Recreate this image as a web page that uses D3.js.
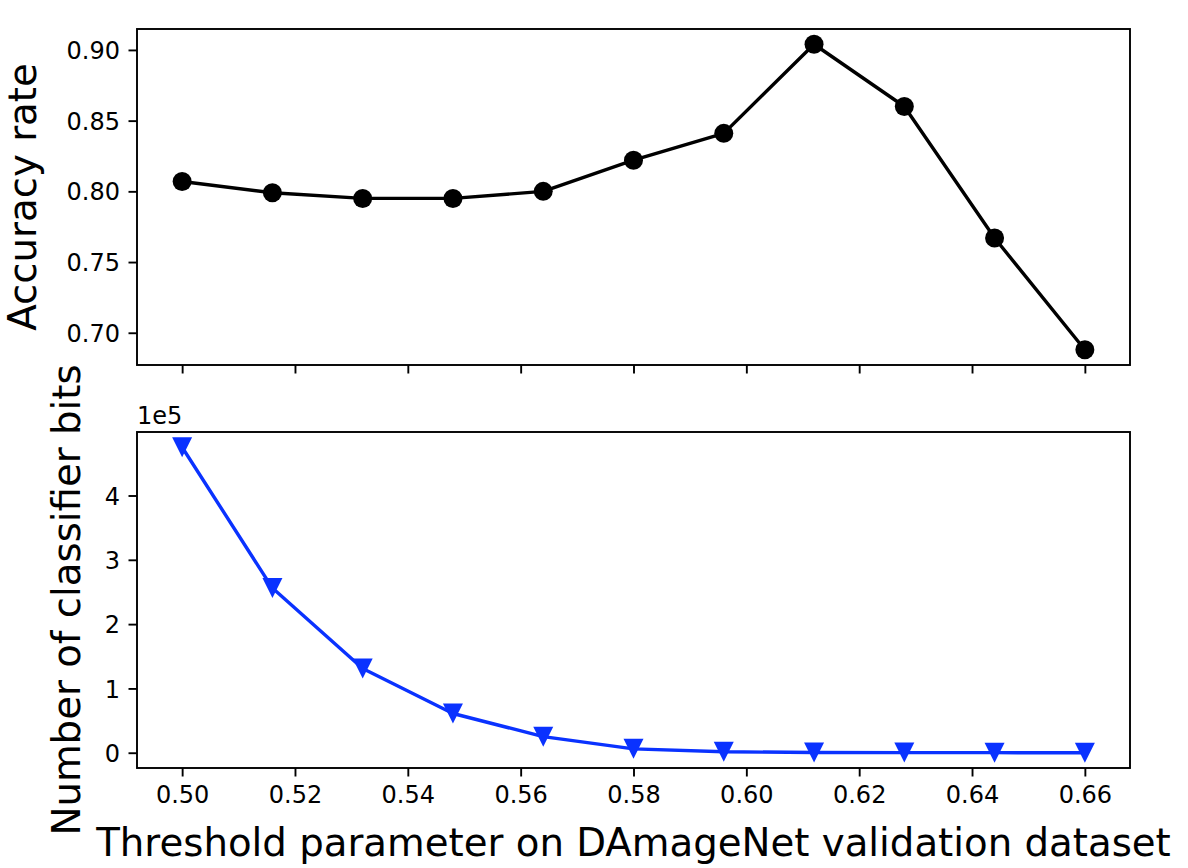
<!DOCTYPE html>
<html><head><meta charset="utf-8">
<script src="https://cdn.jsdelivr.net/npm/d3@7"></script>
<style>body{margin:0;background:#fff}svg{display:block}text{font-family:"DejaVu Sans",sans-serif;fill:#000}</style>
</head><body>
<svg id="c" width="1188" height="868"></svg>
<script>
const thresholds = [0.500, 0.516, 0.532, 0.548, 0.564, 0.580, 0.596, 0.612, 0.628, 0.644, 0.660];
const accuracy = [0.807, 0.799, 0.795, 0.795, 0.800, 0.822, 0.841, 0.904, 0.860, 0.767, 0.688];
const bits = [4.75, 2.56, 1.31, 0.61, 0.25, 0.06, 0.015, 0.004, 0.002, 0.001, 0.0];
const xTicks = [0.50, 0.52, 0.54, 0.56, 0.58, 0.60, 0.62, 0.64, 0.66];
const accTicks = [0.70, 0.75, 0.80, 0.85, 0.90];
const bitsTicks = [0, 1, 2, 3, 4];

const svg = d3.select('#c');
const L = 137, R = 1130;
const top1 = 29, bot1 = 365, top2 = 432, bot2 = 768;
const tickFont = 24, labFont = 38.7, tickLen = 8.5, pad = 8.5;

function pad5(ext){const r=ext[1]-ext[0];return [ext[0]-0.05*r, ext[1]+0.05*r];}
const x = d3.scaleLinear().domain(pad5(d3.extent(thresholds))).range([L, R]);
const y1 = d3.scaleLinear().domain(pad5(d3.extent(accuracy))).range([bot1, top1]);
const y2 = d3.scaleLinear().domain(pad5(d3.extent(bits))).range([bot2, top2]);

function panel(y, ticks, fmt, top, bot, showX){
  const g = svg.append('g');
  // x axis
  const xa = d3.axisBottom(x).tickValues(xTicks).tickSize(tickLen).tickPadding(pad)
    .tickFormat(showX ? d3.format('.2f') : () => '');
  const gx = g.append('g').attr('transform', `translate(0,${bot})`).call(xa);
  gx.select('.domain').remove();
  gx.selectAll('line').attr('stroke', '#000').attr('stroke-width', 1.9);
  gx.selectAll('text').attr('font-size', tickFont).attr('font-family','DejaVu Sans').attr('dy','0.76em');
  const ya = d3.axisLeft(y).tickValues(ticks).tickSize(tickLen).tickPadding(pad).tickFormat(fmt);
  const gy = g.append('g').attr('transform', `translate(${L},0)`).call(ya);
  gy.select('.domain').remove();
  gy.selectAll('line').attr('stroke', '#000').attr('stroke-width', 1.9);
  gy.selectAll('text').attr('font-size', tickFont).attr('font-family','DejaVu Sans').attr('dy','0.36em');
  return g;
}
panel(y1, accTicks, d3.format('.2f'), top1, bot1, false);
panel(y2, bitsTicks, d3.format('d'), top2, bot2, true);

// top series
const line1 = d3.line().x((d,i)=>x(thresholds[i])).y(d=>y1(d));
svg.append('path').datum(accuracy).attr('d', line1).attr('fill','none').attr('stroke','#000').attr('stroke-width',3.4).attr('stroke-linejoin','round');
svg.append('g').selectAll('circle').data(accuracy).join('circle')
  .attr('cx',(d,i)=>x(thresholds[i])).attr('cy',d=>y1(d)).attr('r',9.5).attr('fill','#000');

// bottom series
const blue = '#0a32ff';
const line2 = d3.line().x((d,i)=>x(thresholds[i])).y(d=>y2(d));
svg.append('path').datum(bits).attr('d', line2).attr('fill','none').attr('stroke',blue).attr('stroke-width',3.4).attr('stroke-linejoin','round');
const h = 10;
svg.append('g').selectAll('path').data(bits).join('path')
  .attr('transform',(d,i)=>`translate(${x(thresholds[i])},${y2(d)})`)
  .attr('d',`M${-h},${-h}L${h},${-h}L0,${h}Z`).attr('fill',blue);

// frames
[[top1,bot1],[top2,bot2]].forEach(([t,b])=>{
  svg.append('rect').attr('x',L).attr('y',t).attr('width',R-L).attr('height',b-t)
    .attr('fill','none').attr('stroke','#000').attr('stroke-width',1.9);
});

// offset text
svg.append('text').attr('x',L).attr('y',424).attr('font-size',tickFont).text('1e5');

// labels
svg.append('text').attr('transform',`translate(36,${(top1+bot1)/2}) rotate(-90)`)
  .attr('text-anchor','middle').attr('font-size',labFont).text('Accuracy rate');
svg.append('text').attr('transform',`translate(80,${(top2+bot2)/2}) rotate(-90)`)
  .attr('text-anchor','middle').attr('font-size',labFont).text('Number of classifier bits');
svg.append('text').attr('x',(L+R)/2).attr('y',856)
  .attr('text-anchor','middle').attr('font-size',labFont).text('Threshold parameter on DAmageNet validation dataset');
</script>
</body></html>
